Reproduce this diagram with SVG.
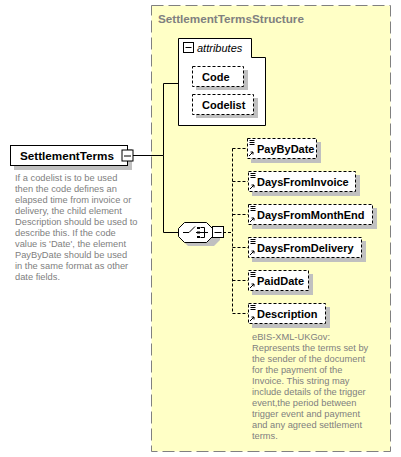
<svg xmlns="http://www.w3.org/2000/svg" width="401" height="457" viewBox="0 0 401 457">
<defs>
<style>
.lbl{font-family:"Liberation Sans",Arial,sans-serif;font-weight:bold;font-size:11px;fill:#000}
.doc{font-family:"Liberation Sans",Arial,sans-serif;font-size:9.3px;fill:#808080}
.shadow{fill:#c0c0c0}
.elem{fill:#fff;stroke:#000;stroke-width:1;stroke-dasharray:3,2}
.solid{fill:#fff;stroke:#000;stroke-width:1}
.conn{fill:none;stroke:#000;stroke-width:1}
.dconn{fill:none;stroke:#000;stroke-width:1;stroke-dasharray:3,2}
.icon{fill:none;stroke:#000;stroke-width:1}
</style>
<g id="elicon">
<path class="icon" d="M2.5,2.5h5M2.5,4.5h5M2.5,6.5h5"/>
<path d="M2,18 L6,14 M3.5,14 h2.5 v2.5" class="icon"/>
</g>
<g id="minus">
<rect x="0.5" y="0.5" width="11" height="11" fill="#fff" stroke="#000"/>
<path d="M2.5,6.5h7" stroke="#000"/>
</g>
</defs>

<g id="structure">
<rect x="151.5" y="5.5" width="239" height="446" fill="#ffffc6" stroke="#808080" stroke-dasharray="12,5"/>
<text x="158" y="23" font-family="Liberation Sans, Arial, sans-serif" font-weight="bold" font-size="11.7px" fill="#808080">SettlementTermsStructure</text>
</g>

<g id="connectors">
<path class="conn" d="M133,155.5 H163.5 V232.5 H178 M163.5,155.5 V83.5 H178"/>
<path class="dconn" d="M223,232.5 H232.5 M232.5,148.5 V313.5 M232.5,148.5 H247 M232.5,181.5 H248 M232.5,214.5 H248 M232.5,247.5 H248 M232.5,280.5 H248 M232.5,313.5 H248"/>
</g>

<g id="SettlementTerms">
<rect class="shadow" x="14" y="149" width="118" height="21"/>
<rect class="solid" x="10.5" y="145.5" width="117" height="20"/>
<text class="lbl" x="20" y="160" style="font-size:11.7px">SettlementTerms</text>
<use href="#minus" x="121.5" y="149.5"/>
<text class="doc" x="15" y="181">If a codelist is to be used</text>
<text class="doc" x="15" y="192">then the code defines an</text>
<text class="doc" x="15" y="203">elapsed time from invoice or</text>
<text class="doc" x="15" y="214">delivery, the child element</text>
<text class="doc" x="15" y="225">Description should be used to</text>
<text class="doc" x="15" y="236">describe this. If the code</text>
<text class="doc" x="15" y="247">value is 'Date', the element</text>
<text class="doc" x="15" y="258">PayByDate should be used</text>
<text class="doc" x="15" y="269">in the same format as other</text>
<text class="doc" x="15" y="280">date fields.</text>
</g>

<g id="attributes">
<path class="solid" d="M178.5,38.5 H251.5 V57.5 H265.5 V125.5 H178.5 Z"/>
<rect x="183.5" y="42.5" width="10" height="10" fill="#fff" stroke="#000"/>
<path d="M185.5,47.5h6" stroke="#000"/>
<text x="197" y="52" font-family="Liberation Sans, Arial, sans-serif" font-style="italic" font-size="11px">attributes</text>
</g>

<g id="Code">
<rect class="shadow" x="196" y="70" width="52" height="20"/>
<rect class="elem" x="192.5" y="66.5" width="51" height="20"/>
<text class="lbl" x="202" y="80.5">Code</text>
</g>

<g id="Codelist">
<rect class="shadow" x="196" y="98" width="62" height="20"/>
<rect class="elem" x="192.5" y="94.5" width="61" height="20"/>
<text class="lbl" x="202" y="108.5">Codelist</text>
</g>

<g id="choice">
<path class="shadow" d="M188,227 H214 L220,233 V240 L214,246 H188 L182,240 V233 Z"/>
<path class="solid" d="M184.5,222.5 H206.5 L212.5,228.5 V236.5 L206.5,242.5 H184.5 L178.5,236.5 V228.5 Z"/>
<path class="icon" d="M183,232.5 H189 L195,226.5 M196,232.5 H208"/>
<rect x="197" y="227" width="3" height="2" fill="#000"/>
<rect x="197" y="231.5" width="3" height="2" fill="#000"/>
<rect x="197" y="236" width="3" height="2" fill="#000"/>
<path class="icon" d="M200.5,227.5 H204.5 V237.5 H200.5"/>
<use href="#minus" x="212" y="226"/>
</g>

<g id="PayByDate">
<rect class="shadow" x="251" y="142" width="70" height="21"/>
<rect class="elem" x="247.5" y="138.5" width="69" height="20"/>
<use href="#elicon" x="247" y="138"/>
<text class="lbl" x="257" y="153">PayByDate</text>
</g>

<g id="DaysFromInvoice">
<rect class="shadow" x="252" y="175" width="108" height="21"/>
<rect class="elem" x="248.5" y="171.5" width="107" height="20"/>
<use href="#elicon" x="248" y="171"/>
<text class="lbl" x="257" y="186">DaysFromInvoice</text>
</g>

<g id="DaysFromMonthEnd">
<rect class="shadow" x="252" y="208" width="125" height="21"/>
<rect class="elem" x="248.5" y="204.5" width="124" height="20"/>
<use href="#elicon" x="248" y="204"/>
<text class="lbl" x="257" y="219">DaysFromMonthEnd</text>
</g>

<g id="DaysFromDelivery">
<rect class="shadow" x="252" y="241" width="114" height="21"/>
<rect class="elem" x="248.5" y="237.5" width="113" height="20"/>
<use href="#elicon" x="248" y="237"/>
<text class="lbl" x="257" y="252">DaysFromDelivery</text>
</g>

<g id="PaidDate">
<rect class="shadow" x="252" y="274" width="61" height="21"/>
<rect class="elem" x="248.5" y="270.5" width="60" height="20"/>
<use href="#elicon" x="248" y="270"/>
<text class="lbl" x="257" y="285">PaidDate</text>
</g>

<g id="Description">
<rect class="shadow" x="252" y="307" width="78" height="21"/>
<rect class="elem" x="248.5" y="303.5" width="77" height="20"/>
<use href="#elicon" x="248" y="303"/>
<text class="lbl" x="257" y="318">Description</text>
<text class="doc" x="252" y="340">eBIS-XML-UKGov:</text>
<text class="doc" x="252" y="351">Represents the terms set by</text>
<text class="doc" x="252" y="362">the sender of the document</text>
<text class="doc" x="252" y="373">for the payment of the</text>
<text class="doc" x="252" y="384">Invoice. This string may</text>
<text class="doc" x="252" y="395">include details of the trigger</text>
<text class="doc" x="252" y="406">event,the period between</text>
<text class="doc" x="252" y="417">trigger event and payment</text>
<text class="doc" x="252" y="428">and any agreed settlement</text>
<text class="doc" x="252" y="439">terms.</text>
</g>
</svg>
